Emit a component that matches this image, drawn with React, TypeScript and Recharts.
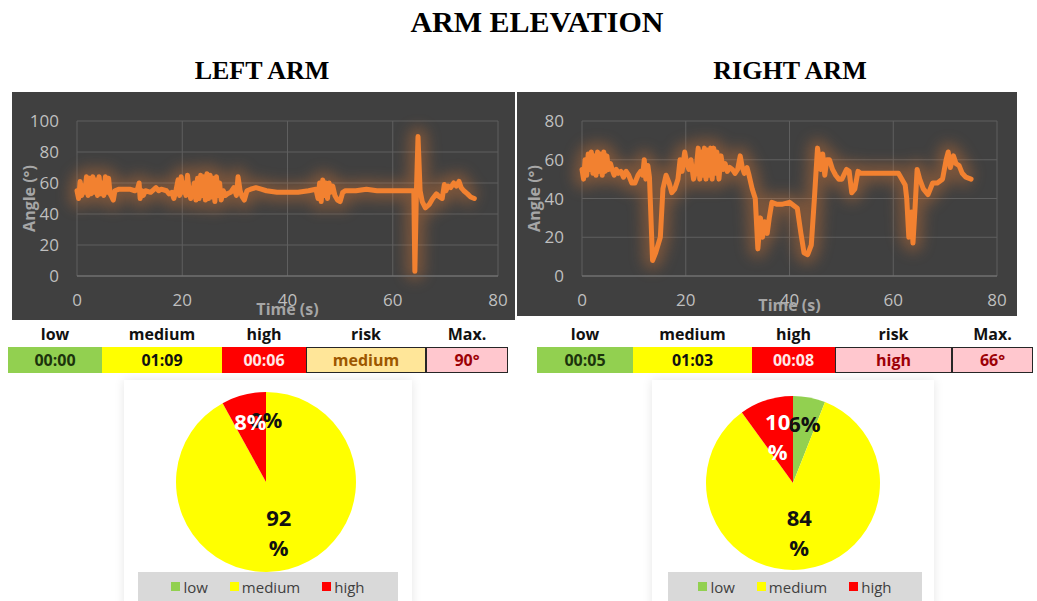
import React from 'react';
import {
  LineChart,
  Line,
  XAxis,
  YAxis,
  CartesianGrid,
  Label,
  PieChart,
  Pie,
  Cell,
  Legend,
} from 'recharts';

// ---- Arm elevation traces (time in s, angle in degrees) ----
const leftTime = [
  0, 0.3, 0.6, 0.9, 1.2, 1.5, 1.8, 2.1, 2.4, 2.7, 3.0, 3.3, 3.6, 3.9, 4.2, 4.5, 4.8, 5.1, 5.4, 5.7,
  6.0, 6.3, 6.6, 6.9, 7.2, 8, 9, 10, 11, 11.5, 11.8, 12.0, 12.3, 12.6, 13, 14, 15, 15.5, 16, 17,
  17.5, 18, 18.4, 18.8, 19.2, 19.5, 19.8, 20.1, 20.4, 20.7, 21.0, 21.3, 21.6, 22.0, 22.3, 22.6,
  22.9, 23.2, 23.5, 23.8, 24.1, 24.4, 24.7, 25.0, 25.3, 25.6, 25.9, 26.2, 26.5, 26.8, 27.1, 27.4,
  27.8, 28.2, 28.6, 29.2, 29.8, 30.3, 30.6, 31.0, 31.4, 31.8, 32.3, 33, 34, 35, 36, 38, 40, 42, 44,
  45.4, 45.8, 46.1, 46.4, 46.7, 47.0, 47.3, 47.6, 47.9, 48.2, 48.6, 49.0, 49.5, 50.0, 50.5, 51, 53,
  55, 57, 59, 61, 63, 64.0, 64.2, 64.5, 64.8, 65.2, 65.6, 66.2, 66.9, 67.6, 68.3, 68.9, 69.4, 69.8,
  70.1, 70.5, 71, 71.6, 72.1, 72.6, 73.0, 73.5, 74.2, 74.8, 75.5,
];
const leftAngle = [
  55, 50, 61, 52, 58, 54, 64, 52, 63, 53, 64, 54, 62, 52, 64, 53, 60, 52, 64, 54,
  63, 53, 51, 49, 55, 56, 56, 56, 55, 56, 60, 50, 55, 52, 55, 54, 57, 55, 56, 55,
  53, 54, 50, 55, 62, 52, 64, 54, 60, 52, 65, 55, 50, 55, 60, 49,
  63, 50, 65, 52, 64, 49, 66, 50, 65, 51, 63, 48, 64, 52, 60, 49,
  55, 52, 53, 54, 57, 52, 64, 55, 51, 49, 55, 56, 57, 56, 55, 54, 54, 54, 55,
  56, 50, 60, 48, 62, 52, 60, 50, 60, 54, 58, 52, 49, 48, 54, 55, 55,
  56, 55, 55, 55, 55, 55, 3, 55, 90, 55, 48, 44, 46, 50, 53, 51, 50, 59,
  55, 58, 57, 60, 58, 61, 57, 55, 53, 51, 50,
];

const rightTime = [
  0, 0.3, 0.6, 0.9, 1.2, 1.5, 1.8, 2.1, 2.4, 2.7, 3.0, 3.3, 3.6, 3.9, 4.2, 4.5, 4.8, 5.1, 5.5, 5.8,
  6.2, 6.6, 7.0, 7.5, 8.0, 8.5, 9.0, 9.6, 10.2, 10.8, 11.3, 11.7, 12.0, 12.3, 12.7, 13.0, 13.6,
  14.2, 15.1, 15.6, 16.2, 16.8, 17.3, 17.9, 18.5, 18.9, 19.3, 19.8, 20.2, 20.6, 21.0, 21.5, 22.0,
  22.4, 22.7, 23.0, 23.3, 23.6, 23.9, 24.2, 24.5, 24.8, 25.1, 25.4, 25.7, 26.0, 26.4, 26.8, 27.2,
  27.6, 28.0, 28.5, 29.0, 29.5, 30.0, 30.5, 30.9, 31.3, 31.8, 32.2, 32.8, 33.4, 33.9, 34.4, 34.8,
  35.2, 35.7, 36.1, 36.6, 37.6, 38.5, 40, 41.5, 42.2, 42.8, 43.5, 44.2, 44.8, 45.4, 46.0, 46.4,
  46.8, 47.2, 47.7, 48.3, 48.9, 49.5, 50.1, 51.0, 51.5, 52.0, 52.6, 53.2, 53.7, 55, 58, 61, 62.3,
  62.6, 63.0, 63.5, 63.8, 64.2, 64.6, 65.1, 65.8, 66.7, 67.6, 68.5, 69.5, 70.2, 70.6, 71.0, 71.6,
  72.1, 72.7, 73.3, 74.0, 75.0, 75.5,
];
const rightAngle = [
  55, 50, 60, 52, 63, 55, 64, 53, 62, 52, 64, 54, 63, 52, 64, 54, 62, 55, 58, 55,
  52, 55, 53, 54, 51, 54, 52, 48, 48, 52, 54, 52, 60, 50, 57, 51, 8,
  12, 20, 45, 52, 48, 43, 45, 50, 60, 54, 64, 58, 55, 60, 50, 55,
  66, 50, 64, 52, 66, 50, 65, 52, 66, 50, 66, 53, 64, 50, 62, 55,
  58, 54, 56, 55, 53, 55, 62, 56, 53, 56, 52, 45, 40, 14, 30,
  20, 28, 22, 30, 38, 37, 37, 38, 35, 22, 12, 11, 16, 40, 66, 55,
  63, 52, 60, 60, 55, 52, 50, 50, 55, 54, 43, 45, 54, 53, 53, 53, 53,
  47, 40, 20, 33, 17, 35, 55, 50, 45, 42, 48, 48, 50, 60, 64, 56,
  62, 58, 57, 53, 51, 50,
];

const timeTicks = [0, 20, 40, 60, 80];
const leftAngleTicks = [0, 20, 40, 60, 80, 100];
const rightAngleTicks = [0, 20, 40, 60, 80];

// ---- Exposure zones ----
const zoneNames = ['low', 'medium', 'high'];
const zoneColors = ['#92D050', '#FFFF00', '#FF0000'];
const leftSharePct = [0, 92, 8];
const rightSharePct = [6, 84, 10];

// ---- Summary table ----
const tableHeaders = ['low', 'medium', 'high', 'risk', 'Max.'];
const leftSummary = ['00:00', '01:09', '00:06', 'medium', '90°'];
const rightSummary = ['00:05', '01:03', '00:08', 'high', '66°'];

const SANS = '"Open Sans", "Noto Sans", sans-serif';
const SERIF = '"Liberation Serif", "DejaVu Serif", serif';
const LINE_ORANGE = '#F28130';
const RAD = Math.PI / 180;

const AngleAxisLabel = (props: any) => {
  const vb = props.viewBox || {};
  const x = (vb.x || 0) + 17;
  const y = (vb.y || 0) + (vb.height || 0) / 2;
  return (
    <text
      x={x}
      y={y}
      transform={`rotate(-90 ${x} ${y})`}
      textAnchor="middle"
      dominantBaseline="central"
      fill="#A6A6A6"
      fontSize={16}
      fontWeight="bold"
      fontFamily={SANS}
    >
      Angle (°)
    </text>
  );
};

type AngleChartProps = {
  times: number[];
  angles: number[];
  yTicks: number[];
  width: number;
  height: number;
  rightGap: number;
  axisHeight: number;
};

function AngleChart({ times, angles, yTicks, width, height, rightGap, axisHeight }: AngleChartProps) {
  const data = times.map((t, i) => ({ t, angle: angles[i] }));
  const yMax = yTicks[yTicks.length - 1];
  const tickStyle = { fill: '#BFBFBF', fontSize: 17, fontFamily: SANS };
  return (
    <LineChart
      width={width}
      height={height}
      data={data}
      margin={{ top: 29, right: rightGap, left: 0, bottom: 0 }}
      style={{ background: '#404040' }}
    >
      <CartesianGrid stroke="#5F5F5F" strokeWidth={1} />
      <XAxis
        dataKey="t"
        type="number"
        domain={[0, 80]}
        ticks={timeTicks}
        interval={0}
        height={axisHeight}
        axisLine={{ stroke: '#7A7A7A' }}
        tickLine={false}
        tickSize={6}
        tickMargin={12}
        tick={tickStyle}
      >
        <Label
          value="Time (s)"
          position="insideBottom"
          offset={5}
          fill="#A6A6A6"
          fontSize={16}
          fontWeight="bold"
          fontFamily={SANS}
        />
      </XAxis>
      <YAxis
        type="number"
        domain={[0, yMax]}
        ticks={yTicks}
        interval={0}
        width={65}
        axisLine={false}
        tickLine={false}
        tickSize={6}
        tickMargin={12}
        tick={tickStyle}
      >
        <Label content={AngleAxisLabel} />
      </YAxis>
      <Line
        dataKey="angle"
        className="angle-glow"
        stroke={LINE_ORANGE}
        strokeWidth={18}
        strokeOpacity={0.33}
        dot={false}
        activeDot={false}
        isAnimationActive={false}
        strokeLinejoin="round"
      />
      <Line
        dataKey="angle"
        stroke={LINE_ORANGE}
        strokeWidth={5}
        dot={false}
        activeDot={false}
        isAnimationActive={false}
        strokeLinejoin="round"
        strokeLinecap="round"
      />
    </LineChart>
  );
}

const renderShareLabel = (props: any) => {
  const { cx, cy, midAngle, outerRadius, value } = props;
  const name = props.name ?? props.payload?.name;
  const twoLine = value >= 10;
  const rr = outerRadius * (twoLine ? 0.57 : 0.7);
  const x = cx + rr * Math.cos(-midAngle * RAD);
  const y = cy + rr * Math.sin(-midAngle * RAD);
  const fill = name === 'high' ? '#FFFFFF' : '#111111';
  const common = {
    textAnchor: 'middle' as const,
    dominantBaseline: 'central' as const,
    fill,
    fontSize: 22,
    fontWeight: 'bold' as const,
    fontFamily: SANS,
  };
  if (twoLine) {
    return (
      <g>
        <text x={x} y={y - 15} {...common}>{value}</text>
        <text x={x} y={y + 15} {...common}>%</text>
      </g>
    );
  }
  return (
    <text x={x} y={y} {...common}>{`${value}%`}</text>
  );
};

const ZoneLegend = () => (
  <div
    style={{
      width: '100%',
      height: '100%',
      background: '#D9D9D9',
      display: 'flex',
      alignItems: 'center',
      justifyContent: 'center',
      gap: 22,
      fontFamily: SANS,
      fontSize: 15,
      color: '#404040',
    }}
  >
    {zoneNames.map((n, i) => (
      <span key={n} style={{ display: 'flex', alignItems: 'center', gap: 3 }}>
        <span style={{ width: 9, height: 9, background: zoneColors[i], display: 'inline-block' }} />
        {n}
      </span>
    ))}
  </div>
);

type SharePieProps = {
  shares: number[];
  cx: number;
  cy: number;
  r: number;
  legendLeft: number;
  legendWidth: number;
};

function SharePie({ shares, cx, cy, r, legendLeft, legendWidth }: SharePieProps) {
  const data = zoneNames.map((name, i) => ({ name, value: shares[i] }));
  return (
    <PieChart width={300} height={223} margin={{ top: 0, right: 0, bottom: 0, left: 0 }}>
      <Pie
        data={data}
        dataKey="value"
        nameKey="name"
        cx={cx}
        cy={cy}
        outerRadius={r}
        startAngle={90}
        endAngle={-270}
        stroke="none"
        label={renderShareLabel}
        labelLine={false}
        isAnimationActive={false}
      >
        {data.map((d, i) => (
          <Cell key={d.name} fill={zoneColors[i]} />
        ))}
      </Pie>
      <Legend
        content={ZoneLegend}
        wrapperStyle={{ left: legendLeft, top: 194, width: legendWidth, height: 29 }}
      />
    </PieChart>
  );
}

type SummaryProps = { edges: number[]; values: string[] };

function SummaryTable({ edges, values }: SummaryProps) {
  const risk = values[3];
  const riskFill = risk === 'high' ? '#FFC7CE' : '#FFE699';
  const riskText = risk === 'high' ? '#9C0006' : '#9C5700';
  const fills = [zoneColors[0], zoneColors[1], zoneColors[2], riskFill, '#FFC7CE'];
  const inks = ['#1C330C', '#111111', '#FFE8E8', riskText, '#9C0006'];
  return (
    <>
      {tableHeaders.map((h, i) => (
        <div
          key={`h-${h}`}
          style={{
            position: 'absolute',
            left: edges[i],
            width: edges[i + 1] - edges[i],
            top: 322,
            height: 24,
            lineHeight: '24px',
            textAlign: 'center',
            fontFamily: SANS,
            fontWeight: 'bold',
            fontSize: 16,
            color: '#111',
          }}
        >
          {h}
        </div>
      ))}
      {values.map((v, i) => {
        const boxed = i >= 3;
        return (
          <div
            key={`v-${i}`}
            style={{
              position: 'absolute',
              left: edges[i],
              width: edges[i + 1] - edges[i],
              top: 347,
              height: 26,
              boxSizing: 'border-box',
              border: boxed ? '1.5px solid #262626' : 'none',
              background: fills[i],
              display: 'flex',
              alignItems: 'center',
              justifyContent: 'center',
              fontFamily: SANS,
              fontWeight: 'bold',
              fontSize: 16,
              color: inks[i],
            }}
          >
            {v}
          </div>
        );
      })}
    </>
  );
}

export default function App() {
  const heading = (text: string, center: number, top: number, size: number) => (
    <div
      style={{
        position: 'absolute',
        left: center - 250,
        width: 500,
        top,
        textAlign: 'center',
        fontFamily: SERIF,
        fontWeight: 'bold',
        fontSize: size,
        color: '#000',
        lineHeight: 1,
      }}
    >
      {text}
    </div>
  );

  return (
    <div
      style={{
        position: 'absolute',
        left: 0,
        top: 0,
        width: 1037,
        height: 601,
        background: '#FFFFFF',
        overflow: 'hidden',
      }}
    >
      <style>{`.angle-glow path { filter: blur(7px); }`}</style>

      {heading('ARM ELEVATION', 537, 7, 30)}
      {heading('LEFT ARM', 262, 58, 26)}
      {heading('RIGHT ARM', 790, 58, 26)}

      <div style={{ position: 'absolute', left: 12, top: 92 }}>
        <AngleChart
          times={leftTime}
          angles={leftAngle}
          yTicks={leftAngleTicks}
          width={503}
          height={228}
          rightGap={17}
          axisHeight={44}
        />
      </div>
      <div style={{ position: 'absolute', left: 517, top: 92 }}>
        <AngleChart
          times={rightTime}
          angles={rightAngle}
          yTicks={rightAngleTicks}
          width={500}
          height={224}
          rightGap={20}
          axisHeight={40}
        />
      </div>

      <SummaryTable edges={[8, 102, 222, 306, 426, 508]} values={leftSummary} />
      <SummaryTable edges={[537, 633, 752, 835, 952, 1033]} values={rightSummary} />

      <div
        style={{
          position: 'absolute',
          left: 124,
          top: 380,
          width: 288,
          height: 230,
          boxShadow: '0 0 10px rgba(0,0,0,0.10)',
          background: '#FFFFFF',
        }}
      />
      <div
        style={{
          position: 'absolute',
          left: 652,
          top: 380,
          width: 282,
          height: 230,
          boxShadow: '0 0 10px rgba(0,0,0,0.10)',
          background: '#FFFFFF',
        }}
      />

      <div style={{ position: 'absolute', left: 120, top: 378 }}>
        <SharePie shares={leftSharePct} cx={146} cy={104} r={90} legendLeft={18} legendWidth={260} />
      </div>
      <div style={{ position: 'absolute', left: 640, top: 378 }}>
        <SharePie shares={rightSharePct} cx={153} cy={105} r={87} legendLeft={28} legendWidth={254} />
      </div>
    </div>
  );
}
